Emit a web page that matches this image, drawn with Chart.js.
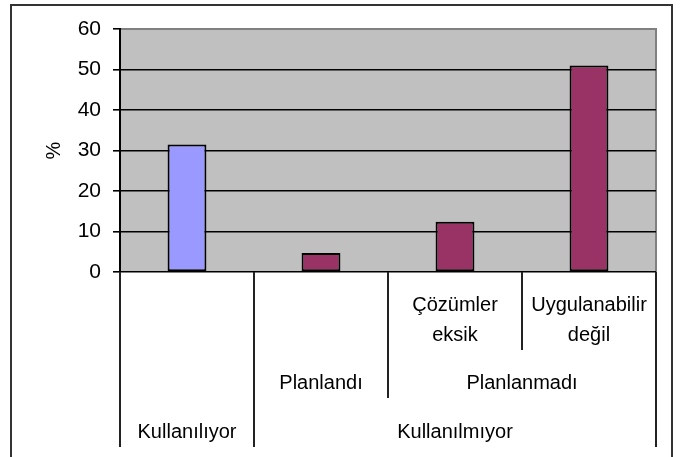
<!DOCTYPE html>
<html>
<head>
<meta charset="utf-8">
<script src="https://cdn.jsdelivr.net/npm/chart.js@4/dist/chart.umd.min.js"></script>
<style>
  html, body { margin: 0; padding: 0; background: #fff; }
  #wrap { width: 683px; height: 457px; position: relative; }
</style>
</head>
<body>
<div id="wrap"><canvas id="chart"></canvas></div>
<script>
// data
const categories = ['Kullanılıyor', 'Planlandı', 'Çözümler eksik', 'Uygulanabilir değil'];
const values = [31.5, 4.7, 12.4, 51.0];
const leafLabels = [[], [], ['Çözümler', 'eksik'], ['Uygulanabilir', 'değil']];
const midGroups = [
  { label: 'Planlandı', from: 1, to: 1 },
  { label: 'Planlanmadı', from: 2, to: 3 }
];
const topGroups = [
  { label: 'Kullanılıyor', from: 0, to: 0 },
  { label: 'Kullanılmıyor', from: 1, to: 3 }
];
const yMin = 0, yMax = 60, yStep = 10;
const yTitle = '%';

const barColors = ['#9999ff', '#993366', '#993366', '#993366'];
const FONT = 'Liberation Sans, Arial, sans-serif';

Chart.defaults.font.family = FONT;
Chart.defaults.font.size = 20;
Chart.defaults.color = '#000';

function groupOf(groups, i) {
  return groups.findIndex(g => i >= g.from && i <= g.to);
}

// plot background, frame and the multi level category axis
const excelLook = {
  id: 'excelLook',
  beforeDraw(chart) {
    const { ctx, chartArea: a } = chart;
    ctx.save();
    ctx.fillStyle = '#c0c0c0';
    ctx.fillRect(a.left, a.top, a.right - a.left, a.bottom - a.top);
    ctx.strokeStyle = '#808080';
    ctx.lineWidth = 2;
    ctx.beginPath();
    ctx.moveTo(a.left, a.top);
    ctx.lineTo(a.right, a.top);
    ctx.lineTo(a.right, a.bottom);
    ctx.stroke();
    ctx.restore();
  },
  afterDraw(chart) {
    const { ctx, chartArea: a } = chart;
    const x = chart.scales.x;
    const step = x.getPixelForValue(1) - x.getPixelForValue(0);
    const edge = i => x.getPixelForValue(i) - step / 2;
    const leafBottom = a.bottom + 78;
    const midBottom = a.bottom + 126;
    const topBottom = a.bottom + 175;

    ctx.save();
    // separators
    ctx.strokeStyle = '#222';
    ctx.lineWidth = 2;
    for (let b = 0; b <= categories.length; b++) {
      let bottom = topBottom;
      if (b > 0 && b < categories.length) {
        if (groupOf(topGroups, b - 1) !== groupOf(topGroups, b)) bottom = topBottom;
        else if (groupOf(midGroups, b - 1) !== groupOf(midGroups, b)) bottom = midBottom;
        else bottom = leafBottom;
      }
      const px = Math.round(edge(b));
      ctx.beginPath();
      ctx.moveTo(px, a.bottom);
      ctx.lineTo(px, bottom);
      ctx.stroke();
    }

    // labels
    ctx.fillStyle = '#000';
    ctx.font = '20px ' + FONT;
    ctx.textAlign = 'center';
    ctx.textBaseline = 'middle';
    leafLabels.forEach((lines, i) => {
      const cx = x.getPixelForValue(i);
      lines.forEach((t, k) => ctx.fillText(t, cx, a.bottom + 33 + k * 30));
    });
    midGroups.forEach(g => {
      const cx = (edge(g.from) + edge(g.to + 1)) / 2;
      ctx.fillText(g.label, cx, a.bottom + 111);
    });
    topGroups.forEach(g => {
      const cx = (edge(g.from) + edge(g.to + 1)) / 2;
      ctx.fillText(g.label, cx, a.bottom + 160);
    });

    // outer chart frame
    ctx.strokeStyle = '#333';
    ctx.lineWidth = 2;
    ctx.strokeRect(11, 5, 661, 470);
    ctx.restore();
  }
};

new Chart(document.getElementById('chart'), {
  type: 'bar',
  data: {
    labels: categories,
    datasets: [{
      data: values,
      backgroundColor: barColors,
      borderColor: '#000',
      borderWidth: 2,
      borderSkipped: false,
      barPercentage: 0.29,
      categoryPercentage: 1
    }]
  },
  options: {
    responsive: true,
    maintainAspectRatio: false,
    animation: false,
    layout: { padding: { left: 38, right: 27, top: 29, bottom: 0 } },
    plugins: { legend: { display: false }, tooltip: { enabled: false } },
    scales: {
      x: {
        ticks: { display: false },
        grid: { display: false },
        border: { display: false },
        afterFit: s => { s.height = 185; }
      },
      y: {
        min: yMin,
        max: yMax,
        ticks: { stepSize: yStep, padding: 12, font: { size: 21 } },
        grid: {
          color: c => (c.tick && c.tick.value === yMax ? '#808080' : '#000'),
          tickColor: '#000',
          tickLength: 7,
          lineWidth: 1.6
        },
        border: { color: '#000', width: 2 },
        title: { display: true, text: yTitle, font: { size: 20 }, padding: { top: 4, bottom: 4 } },
        afterFit: s => { s.width = 82; }
      }
    }
  },
  plugins: [excelLook]
});
</script>
</body>
</html>
